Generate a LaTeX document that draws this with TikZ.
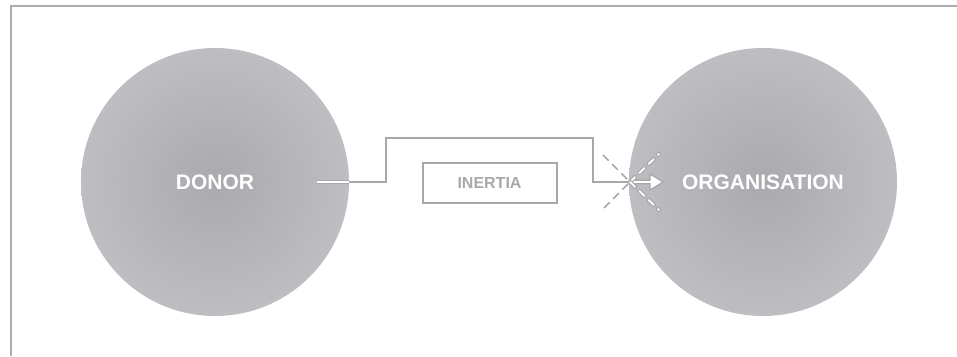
\documentclass[tikz,border=0pt]{standalone}
\usepackage{fontspec}
\setmainfont{Liberation Sans}
\usepackage{tikz}
\usepackage{xcolor}
\definecolor{ball-mid}{RGB}{170,170,174}
\definecolor{ball-rim}{RGB}{190,190,194}
\definecolor{line-gray}{RGB}{168,168,171}
\definecolor{frame-gray}{RGB}{172,172,176}
\tikzset{
    party/.style = {circle, minimum size=268pt, inner sep=0pt, inner color=ball-mid, outer color=ball-rim, text=white, font=\fontsize{21}{25}\selectfont\bfseries},
    barrier-box/.style = {draw=line-gray, line width=2pt, rectangle, minimum width=134pt, minimum height=40pt, text=line-gray, font=\fontsize{16}{19}\selectfont\bfseries},
    flow/.style = {draw=line-gray, line width=2pt},
    flow-hollow/.style = {draw=line-gray, line width=1pt, double=white, double distance=1.6pt},
    cut-line/.style = {draw=line-gray, line width=1.6pt, dash pattern=on 8pt off 5pt},
    cut-hollow/.style = {draw=line-gray, line width=1.2pt, double=white, double distance=1.8pt, line cap=round, dash pattern=on 7pt off 6pt},
}

\begin{document}
\begin{tikzpicture}[x=1pt, y=-1pt]
\useasboundingbox (0,0) rectangle (957,356);
\draw[frame-gray, line width=2pt] (11,356) -- (11,5.7) -- (957,5.7);

\node[party] (donor) at (215,182) {DONOR};
\node[party] (org) at (763,182) {ORGANISATION};
\node[barrier-box] (inertia) at (489.5,182.5) {INERTIA};

\coordinate (start) at (317,182);
\coordinate (cut) at (630,182);

% the gift route, going round the box
\draw[flow] (start) -- (386,182) -- (386,138) -- (593,138) -- (593,182) -- (cut);
\draw[flow-hollow] (start) -- (donor.east);

% open arrow into the organisation
\filldraw[fill=white, draw=line-gray, line width=1.2pt] (632,180.2) -- (650,180.2) -- (650,174) -- (663,182)
    -- (650,190) -- (650,183.8) -- (632,183.8) -- cycle;

% the cross
\draw[cut-line] (603,155) -- (cut);
\draw[cut-line] (604,208) -- (cut);
\draw[cut-hollow] (cut) -- (659,154);
\draw[cut-hollow] (cut) -- (659,210);
\end{tikzpicture}
\end{document}
